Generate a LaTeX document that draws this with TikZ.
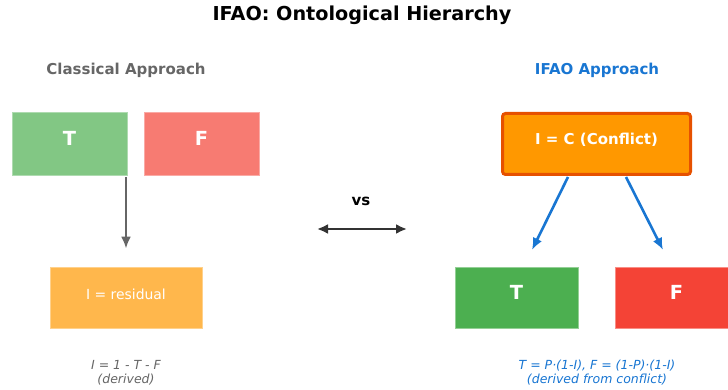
\documentclass[tikz,border=0pt]{standalone}
\usepackage{fontspec}
\setmainfont{DejaVu Sans}
\usetikzlibrary{arrows.meta}
\definecolor{ifao@green}{HTML}{4CAF50}
\definecolor{ifao@red}{HTML}{F44336}
\definecolor{ifao@orange}{HTML}{FF9800}
\definecolor{ifao@rim}{HTML}{E65100}
\definecolor{ifao@blue}{HTML}{1976D2}
\definecolor{ifao@gray}{HTML}{666666}
\definecolor{ifao@dark}{HTML}{333333}

\tikzset{
  valbox/.style={rectangle, inner sep=0pt, text=white, line width=0.8pt},
  bigbold/.style={font=\fontsize{19.4}{23}\selectfont\bfseries},
  midbold/.style={font=\fontsize{15}{18}\selectfont\bfseries},
  notetext/.style={align=center, font=\fontsize{12.5}{14}\selectfont\itshape},
  flowarrow/.style={-{Latex[length=12pt,width=10pt]}, line width=2.6pt},
}

\begin{document}
\begin{tikzpicture}[x=1pt,y=-1pt]
\useasboundingbox (0,0) rectangle (728,390);

\node[font=\fontsize{19.2}{23}\selectfont\bfseries] (title) at (362,15) {IFAO: Ontological Hierarchy};

% Classical side
\node[midbold, text=ifao@gray] (classhead) at (126,70) {Classical Approach};

\node[valbox, bigbold, text depth=10pt, fill=ifao@green!70!white, draw=ifao@green!45!white,
  minimum width=115pt, minimum height=63pt] (cT) at (69.5,143.5) {T};
\node[valbox, bigbold, text depth=10pt, fill=ifao@red!70!white, draw=ifao@red!45!white,
  minimum width=115pt, minimum height=63pt] (cF) at (201.5,143.5) {F};
\node[valbox, font=\fontsize{13.9}{16}\selectfont, text depth=6pt, fill=ifao@orange!70!white,
  draw=ifao@orange!45!white, minimum width=152pt, minimum height=61pt] (cI) at (126,297.5) {I = residual};

\draw[flowarrow, ifao@gray, shorten <=2pt, shorten >=18pt] (cT.south -| cI.north) -- (cI.north);

\node[notetext, text=ifao@gray] (cnote) at (126,373) {I = 1 - T - F\\(derived)};

% versus
\node[midbold] (vs) at (361,201) {vs};
\coordinate (vsL) at (317,229);
\coordinate (vsR) at (407,229);
\draw[{Latex[length=11pt,width=10pt]}-{Latex[length=11pt,width=10pt]}, line width=2.6pt, ifao@dark] (vsL) -- (vsR);

% IFAO side
\node[midbold, text=ifao@blue] (ifaohead) at (597,70) {IFAO Approach};

\node[valbox, midbold, text depth=10pt, fill=ifao@orange, draw=ifao@rim, line width=3pt, rounded corners=3pt,
  minimum width=188pt, minimum height=61pt] (iC) at (596.5,144) {I = C (Conflict)};

\node[valbox, bigbold, text depth=10pt, fill=ifao@green, draw=ifao@green!60!white,
  minimum width=123pt, minimum height=61pt] (iT) at (516.5,297.5) {T};
\node[valbox, bigbold, text depth=10pt, fill=ifao@red, draw=ifao@red!60!white,
  minimum width=123pt, minimum height=61pt] (iF) at (676.5,297.5) {F};

\coordinate (iCleft) at (568,177);
\coordinate (iCright) at (626,177);
\coordinate (iTtop) at (532,250);
\coordinate (iFtop) at (663,250);
\draw[flowarrow, ifao@blue] (iCleft) -- (iTtop);
\draw[flowarrow, ifao@blue] (iCright) -- (iFtop);

\node[notetext, text=ifao@blue] (inote) at (597,373) {T = P·(1-I), F = (1-P)·(1-I)\\(derived from conflict)};

\end{tikzpicture}
\end{document}
